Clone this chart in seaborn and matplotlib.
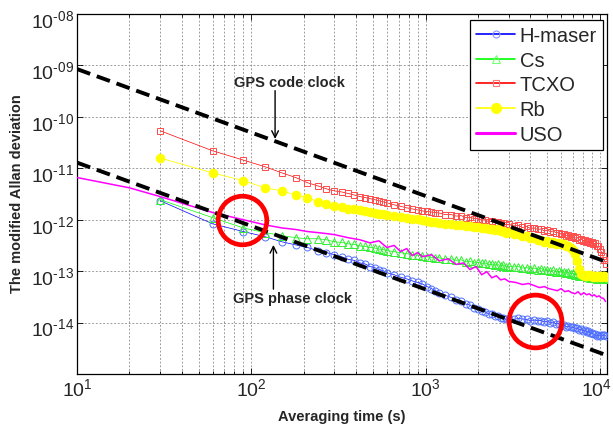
import numpy as np
import matplotlib
matplotlib.use("Agg")
import matplotlib.pyplot as plt
import matplotlib.transforms as mtrans
from matplotlib.lines import Line2D
from matplotlib.ticker import FixedLocator, LogLocator, NullLocator
import seaborn as sns

# ---------------- data (log10 of modified Allan deviation) ----------------
tau = [30, 60, 90, 120, 150, 180, 210, 240, 270, 300,
       330, 360, 390, 420, 450, 480, 510, 540, 570, 600,
       660, 720, 780, 840, 900, 960, 1020, 1080, 1140, 1200,
       1300, 1400, 1500, 1600, 1700, 1800, 1900, 2000, 2100, 2200, 2300, 2400,
       2500, 2600, 2700, 2800, 2900, 3000,
       3200, 3400, 3600, 3800, 4000, 4200, 4400, 4600, 4800, 5000, 5200, 5400,
       5600, 5800, 6000, 6200, 6400, 6600, 6800, 7000, 7200, 7400, 7600, 7800,
       8000, 8200, 8400, 8600, 8800, 9000, 9200, 9400, 9600, 9800, 10000, 10200,
       10400, 10600, 10800]

hmaser_log10 = [-11.63, -12.08, -12.23, -12.33, -12.43, -12.49, -12.54, -12.60, -12.64, -12.68,
                -12.72, -12.77, -12.79, -12.84, -12.86, -12.91, -12.93, -12.97, -12.99, -13.03,
                -13.07, -13.12, -13.15, -13.19, -13.22, -13.25, -13.30, -13.34, -13.38, -13.42,
                -13.47, -13.51, -13.56, -13.58, -13.64, -13.66, -13.71, -13.73, -13.78, -13.79,
                -13.83, -13.84, -13.87, -13.88, -13.91, -13.91, -13.94, -13.93,
                -13.94, -13.92, -13.93, -13.94, -13.96, -13.95, -13.96, -13.96, -13.99, -13.97,
                -14.00, -13.99, -14.02, -14.02, -14.05, -14.04, -14.08, -14.07, -14.09, -14.09,
                -14.11, -14.11, -14.14, -14.13, -14.16, -14.15, -14.18, -14.17, -14.21, -14.20,
                -14.23, -14.23, -14.26, -14.25, -14.26, -14.24, -14.25, -14.24, -14.26]

cs_log10 = [-11.61, -11.96, -12.16, -12.25, -12.31, -12.35, -12.37, -12.37, -12.39, -12.43,
            -12.44, -12.47, -12.48, -12.51, -12.52, -12.54, -12.55, -12.57, -12.58, -12.60,
            -12.62, -12.64, -12.66, -12.68, -12.69, -12.70, -12.72, -12.73, -12.74, -12.74,
            -12.77, -12.76, -12.79, -12.78, -12.82, -12.81, -12.84, -12.83, -12.85, -12.84,
            -12.87, -12.86, -12.88, -12.87, -12.90, -12.88, -12.91, -12.90,
            -12.92, -12.91, -12.94, -12.93, -12.96, -12.94, -12.97, -12.95, -12.98, -12.97,
            -13.00, -12.98, -13.01, -13.00, -13.02, -13.01, -13.04, -13.02, -13.05, -13.04,
            -13.07, -13.06, -13.09, -13.08, -13.10, -13.09, -13.12, -13.10, -13.13, -13.12,
            -13.14, -13.13, -13.16, -13.14, -13.16, -13.14, -13.16, -13.14, -13.15]

tcxo_log10 = [-10.27, -10.66, -10.84, -10.97, -11.09, -11.18, -11.28, -11.34, -11.40, -11.44,
              -11.46, -11.49, -11.52, -11.55, -11.57, -11.59, -11.61, -11.63, -11.65, -11.67,
              -11.71, -11.74, -11.77, -11.79, -11.81, -11.83, -11.84, -11.85, -11.86, -11.87,
              -11.90, -11.90, -11.93, -11.92, -11.96, -11.95, -11.98, -11.98, -12.01, -12.00,
              -12.04, -12.03, -12.06, -12.05, -12.08, -12.07, -12.10, -12.09,
              -12.12, -12.11, -12.15, -12.13, -12.17, -12.16, -12.19, -12.18, -12.22, -12.20,
              -12.23, -12.22, -12.25, -12.25, -12.28, -12.27, -12.31, -12.29, -12.33, -12.32,
              -12.36, -12.34, -12.39, -12.37, -12.41, -12.39, -12.43, -12.41, -12.45, -12.43,
              -12.47, -12.46, -12.51, -12.52, -12.57, -12.62, -12.70, -12.78, -12.86]

rb_log10 = [-10.80, -11.09, -11.24, -11.38, -11.44, -11.52, -11.57, -11.65, -11.69, -11.73,
            -11.76, -11.79, -11.80, -11.82, -11.83, -11.85, -11.86, -11.88, -11.89, -11.90,
            -11.92, -11.94, -11.96, -11.98, -11.99, -12.00, -12.02, -12.04, -12.05, -12.06,
            -12.08, -12.08, -12.11, -12.10, -12.13, -12.12, -12.14, -12.14, -12.17, -12.16,
            -12.19, -12.18, -12.20, -12.19, -12.22, -12.21, -12.25, -12.24,
            -12.27, -12.28, -12.32, -12.31, -12.35, -12.36, -12.39, -12.39, -12.43, -12.42,
            -12.45, -12.44, -12.47, -12.46, -12.48, -12.48, -12.51, -12.52, -12.55, -12.58,
            -12.66, -12.80, -12.95, -13.05, -13.08, -13.09, -13.10, -13.08, -13.07, -13.09,
            -13.11, -13.10, -13.12, -13.10, -13.09, -13.11, -13.10, -13.09, -13.11]

uso_tau = [10, 20, 30, 60, 90, 120, 150, 180, 210, 240, 270, 300,
           360, 420, 480, 540, 600, 660, 720, 780, 840, 900, 960, 1080, 1200,
           1350, 1500, 1650, 1800, 1950, 2100, 2250, 2400, 2550, 2700, 2850, 3000,
           3300, 3600, 3900, 4200, 4500, 4800, 5100, 5400, 5700, 6000, 6300, 6600,
           6900, 7200, 7500, 7800, 8100, 8400, 8700, 9000, 9300, 9600, 9900, 10200,
           10500, 10800]
uso_log10 = [-11.18, -11.38, -11.55, -11.86, -12.00, -12.10, -12.16, -12.19, -12.23, -12.25, -12.27, -12.29,
             -12.35, -12.39, -12.45, -12.41, -12.54, -12.50, -12.62, -12.56, -12.70, -12.64, -12.72, -12.68, -12.80,
             -12.76, -12.87, -12.84, -12.97, -12.91, -13.07, -13.01, -13.13, -13.09, -13.17, -13.15, -13.20,
             -13.22, -13.26, -13.24, -13.28, -13.32, -13.30, -13.34, -13.36, -13.38, -13.34, -13.40, -13.38,
             -13.42, -13.44, -13.40, -13.46, -13.42, -13.46, -13.44, -13.48, -13.46, -13.50, -13.48, -13.52,
             -13.53, -13.59]

# reference slopes (end points)
clock_tau = [10, 11000]
code_clock = [8.5e-10, 1.5e-13]
phase_clock = [1.29e-11, 2.3e-15]

# highlighted regions (circle centres)
circle_tau = [89, 4230]
circle_adev = [1.0e-12, 1.05e-14]

series_labels = ["H-maser", "Cs", "TCXO", "Rb", "USO"]
y_ticks = [1e-14, 1e-13, 1e-12, 1e-11, 1e-10, 1e-9, 1e-8]
y_ticklabels = ["\u201014", "\u201013", "\u201012", "\u201011", "\u201010", "\u201009", "\u201008"]
x_ticks = [10, 100, 1000, 10000]
x_ticklabels = ["1", "2", "3", "4"]

# ---------------- style ----------------
sns.set_theme(style="ticks")
plt.rcParams["font.family"] = ["Liberation Sans", "DejaVu Sans"]
plt.rcParams["mathtext.fontset"] = "custom"
plt.rcParams["mathtext.rm"] = "Liberation Sans"
plt.rcParams["mathtext.it"] = "Liberation Sans:italic"
plt.rcParams["mathtext.bf"] = "Liberation Sans:bold"

fig = plt.figure(figsize=(6.13, 4.27), dpi=100)
ax = fig.add_axes([77 / 613, 1 - 375 / 427, 530 / 613, 360 / 427])
ax.set_xscale("log")
ax.set_yscale("log")

common = dict(ax=ax, estimator=None, sort=False, legend=False)

sns.lineplot(x=tau, y=10 ** np.array(hmaser_log10), color="#0000ff", lw=0.5,
             marker="o", markersize=5.0, markerfacecolor="none",
             markeredgecolor="#4f6fff", markeredgewidth=0.7, zorder=3, **common)
sns.lineplot(x=tau, y=10 ** np.array(cs_log10), color="#00ff00", lw=0.5,
             marker="^", markersize=5.4, markerfacecolor="none",
             markeredgecolor="#33ee33", markeredgewidth=0.7, zorder=3, **common)
sns.lineplot(x=tau, y=10 ** np.array(tcxo_log10), color="#ff0000", lw=0.5,
             marker="s", markersize=4.9, markerfacecolor="none",
             markeredgecolor="#ff4b4b", markeredgewidth=0.7, zorder=3, **common)
sns.lineplot(x=tau, y=10 ** np.array(rb_log10), color="#ffff00", lw=0.6,
             marker="o", markersize=6.4, markerfacecolor="#ffff00",
             markeredgecolor="#ffff00", markeredgewidth=0.5, zorder=3, **common)
sns.lineplot(x=uso_tau, y=10 ** np.array(uso_log10), color="#ff00ff", lw=1.1,
             zorder=3, **common)

sns.lineplot(x=clock_tau, y=code_clock, color="black", lw=2.8,
             linestyle=(0, (3.6, 1.8)), zorder=4, **common)
sns.lineplot(x=clock_tau, y=phase_clock, color="black", lw=2.8,
             linestyle=(0, (3.6, 1.8)), zorder=4, **common)

ax.plot(circle_tau[:1], circle_adev[:1], linestyle="none", marker="o", ms=35,
        mfc="none", mec="#ff0000", mew=3.4, zorder=5)
ax.plot(circle_tau[1:], circle_adev[1:], linestyle="none", marker="o", ms=38,
        mfc="none", mec="#ff0000", mew=3.4, zorder=5)

# annotations
ax.annotate("", xy=(137, 10 ** -10.43), xytext=(137, 10 ** -9.49),
            arrowprops=dict(arrowstyle="->", lw=1.0, color="black",
                            shrinkA=0, shrinkB=0, mutation_scale=12), zorder=6)
ax.text(165, 4.8e-10, "GPS code clock", ha="center", va="center",
        fontsize=10.5, fontweight="bold", zorder=6)
ax.annotate("", xy=(134, 10 ** -12.49), xytext=(134, 10 ** -13.35),
            arrowprops=dict(arrowstyle="->", lw=1.0, color="black",
                            shrinkA=0, shrinkB=0, mutation_scale=12), zorder=6)
ax.text(172, 10 ** -13.52, "GPS phase clock", ha="center", va="center",
        fontsize=10.5, fontweight="bold", zorder=6)

# axes
ax.set_xlim(10, 1.1e4)
ax.set_ylim(1e-15, 1e-8)
ax.xaxis.set_major_locator(FixedLocator(x_ticks))
ax.xaxis.set_minor_locator(LogLocator(base=10, subs=np.arange(2, 10)))
ax.set_xticklabels([r"$\mathregular{10^{%s}}$" % s for s in x_ticklabels])
ax.yaxis.set_major_locator(FixedLocator(y_ticks))
ax.yaxis.set_minor_locator(NullLocator())
ax.set_yticklabels([r"$\mathregular{10^{%s}}$" % s for s in y_ticklabels])

grid_kw = dict(color="#8a8a8a", linestyle=(0, (2.2, 2.2)), linewidth=0.6)
ax.grid(True, which="major", axis="both", **grid_kw)
ax.grid(True, which="minor", axis="x", **grid_kw)
ax.set_axisbelow(True)

ax.tick_params(which="both", direction="in", top=True, right=True,
               width=0.6, color="black", labelsize=14, pad=2)
ax.tick_params(which="major", length=4)
ax.tick_params(which="minor", length=2.5)
for sp in ax.spines.values():
    sp.set_color("black")
    sp.set_linewidth(0.9)
for lbl in ax.get_yticklabels():
    lbl.set_transform(lbl.get_transform() +
                      mtrans.ScaledTranslation(0, -0.04, fig.dpi_scale_trans))
xt = ax.get_xticklabels()
xt[-1].set_transform(xt[-1].get_transform() +
                     mtrans.ScaledTranslation(-0.03, 0, fig.dpi_scale_trans))

fig.text(342 / 613, 1 - 417 / 427, "Averaging time (s)", ha="center", va="center",
         fontsize=10.5, fontweight="bold")
fig.text(17 / 613, 1 - 194 / 427, "The modified Allan deviation", ha="center",
         va="center", rotation=90, fontsize=10.5, fontweight="bold")

handles = [
    Line2D([], [], color="#0000ff", lw=1.2, marker="o", ms=5, mfc="none",
           mec="#8899ff", mew=0.8),
    Line2D([], [], color="#00ff00", lw=1.2, marker="^", ms=5.5, mfc="none",
           mec="#77ff77", mew=0.8),
    Line2D([], [], color="#ff0000", lw=1.2, marker="s", ms=5, mfc="none",
           mec="#ff7777", mew=0.8),
    Line2D([], [], color="#ffff00", lw=1.2, marker="o", ms=7, mfc="#ffff00",
           mec="#ffff00"),
    Line2D([], [], color="#ff00ff", lw=2.2),
]
leg = ax.legend(handles, series_labels, loc="upper right",
                bbox_to_anchor=(0.9925, 0.9833), fontsize=14.5, frameon=True,
                fancybox=False, edgecolor="black", framealpha=1,
                handlelength=1.9, handletextpad=0.25, labelspacing=0.28,
                borderpad=0.3, borderaxespad=0)
leg.get_frame().set_linewidth(0.9)
leg.set_zorder(10)

fig.savefig("out.png", dpi=100)
